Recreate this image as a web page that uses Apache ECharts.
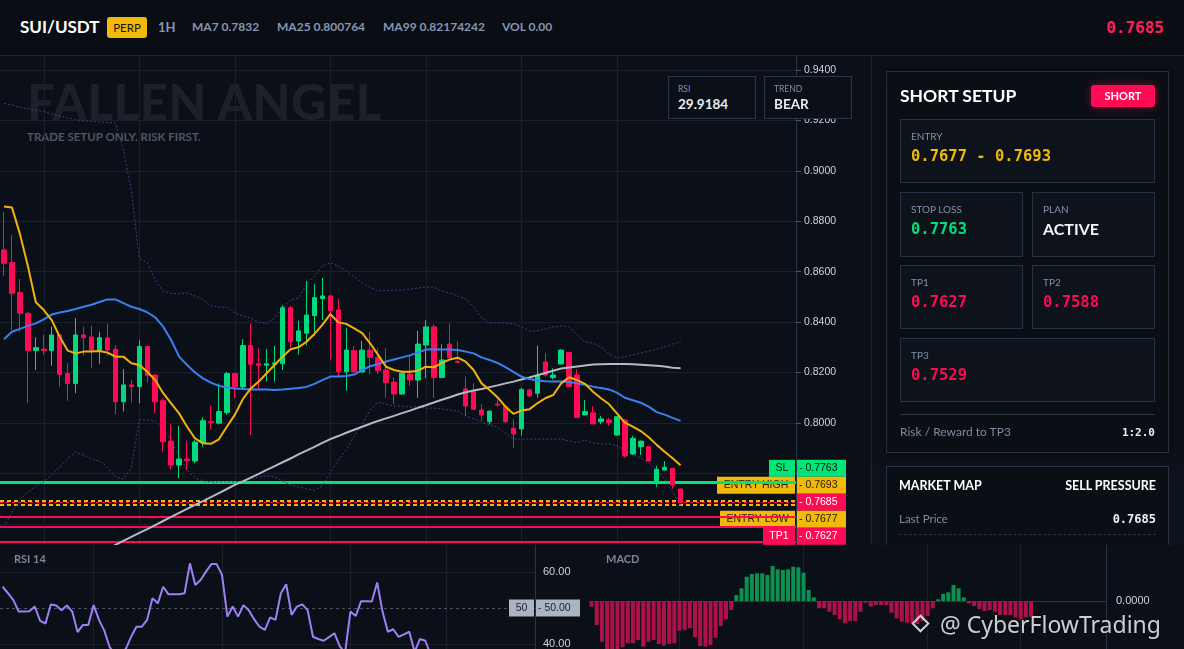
<!DOCTYPE html>
<html>
<head>
<meta charset="utf-8">
<script src="https://cdn.jsdelivr.net/npm/echarts@6.0.0/dist/echarts.min.js"></script>
<style>
*{box-sizing:border-box;margin:0;padding:0}
html,body{width:1184px;height:649px;overflow:hidden;background:#0b0f17}
body{position:relative;font-family:Lato,'Noto Sans',sans-serif;color:#fff}
.a{position:absolute;white-space:nowrap}
.mono{font-family:'DejaVu Sans Mono',monospace;font-weight:700}
.hd{font-size:12px;font-weight:700;color:#8696b0;line-height:16px;top:19px}
.box{position:absolute;border:1px solid #283143;background:#0d121b}
.lbl{position:absolute;left:10px;top:10px;font-size:10px;color:#8391a7;line-height:12px;white-space:nowrap}
.val{position:absolute;left:10px;top:27px;font-size:15.5px;line-height:18px;white-space:nowrap}
</style>
</head>
<body>
<!-- header -->
<div class="a" style="left:0;top:0;width:1184px;height:56px;background:#0a0d14;border-bottom:1px solid #1e2634"></div>
<div class="a" style="left:20px;top:17px;font-size:17px;font-weight:700;line-height:20px;color:#fff">SUI/USDT</div>
<div class="a" style="left:107px;top:17px;width:40px;height:21px;background:#f0b90b;border-radius:3px;color:#1d1606;font-size:11.5px;line-height:21px;text-align:center">PERP</div>
<div class="a hd" style="left:158px;font-size:13px">1H</div>
<div class="a hd" style="left:192px">MA7 0.7832</div>
<div class="a hd" style="left:277px">MA25 0.800764</div>
<div class="a hd" style="left:383px">MA99 0.82174242</div>
<div class="a hd" style="left:502px">VOL 0.00</div>
<div class="a mono" style="right:20px;top:18px;font-size:16px;line-height:20px;color:#ff1f5a">0.7685</div>

<!-- big faded title under chart -->
<div class="a" style="left:27px;top:77px;font-size:49px;font-weight:900;letter-spacing:0.6px;line-height:48px;color:#1b2029">FALLEN ANGEL</div>
<div class="a" style="left:27px;top:130px;font-size:11.5px;font-weight:700;line-height:14px;color:#4d5667">TRADE SETUP ONLY. RISK FIRST.</div>

<div id="main" class="a" style="left:0;top:56px;width:871px;height:489px"></div>

<!-- RSI / TREND boxes -->
<div class="a" style="left:668px;top:76px;width:88px;height:43px;border:1px solid #2b3446;background:#0b0f17">
  <div class="a" style="left:9px;top:7px;font-size:8.5px;color:#8391a7;line-height:10px">RSI</div>
  <div class="a" style="left:9px;top:19px;font-size:13.5px;font-weight:700;color:#e8ecf2;line-height:16px">29.9184</div>
</div>
<div class="a" style="left:764px;top:76px;width:88px;height:43px;border:1px solid #2b3446;background:#0b0f17">
  <div class="a" style="left:9px;top:7px;font-size:8.5px;color:#8391a7;line-height:10px">TREND</div>
  <div class="a" style="left:9px;top:19px;font-size:13.5px;font-weight:700;color:#e8ecf2;line-height:16px">BEAR</div>
</div>

<!-- right panel -->
<div class="a" style="left:871px;top:56px;width:313px;height:489px;background:#0d1119;border-left:1px solid #1c2331"></div>
<div class="a" style="left:886px;top:71px;width:283px;height:382px;border:1px solid #263042;background:#0a0e15;box-shadow:0 0 14px rgba(0,0,0,0.6)"></div>
<div class="a" style="left:900px;top:86px;font-size:17.5px;font-weight:700;line-height:20px">SHORT SETUP</div>
<div class="a" style="left:1091px;top:85px;width:64px;height:22px;background:#ff0a54;border-radius:3px;box-shadow:0 0 10px rgba(255,10,84,.45);font-size:11px;font-weight:700;line-height:22px;text-align:center">SHORT</div>
<div class="box" style="left:900px;top:119px;width:255px;height:64px">
  <div class="lbl">ENTRY</div>
  <div class="val mono" style="color:#f0b90b">0.7677 - 0.7693</div>
</div>
<div class="box" style="left:900px;top:192px;width:123px;height:65px">
  <div class="lbl">STOP LOSS</div>
  <div class="val mono" style="color:#00e07a">0.7763</div>
</div>
<div class="box" style="left:1032px;top:192px;width:123px;height:65px">
  <div class="lbl">PLAN</div>
  <div class="val" style="font-weight:700;font-size:16px;color:#f2f4f8">ACTIVE</div>
</div>
<div class="box" style="left:900px;top:265px;width:123px;height:64px">
  <div class="lbl">TP1</div>
  <div class="val mono" style="color:#ff0a54">0.7627</div>
</div>
<div class="box" style="left:1032px;top:265px;width:123px;height:64px">
  <div class="lbl">TP2</div>
  <div class="val mono" style="color:#ff0a54">0.7588</div>
</div>
<div class="box" style="left:900px;top:338px;width:255px;height:64px">
  <div class="lbl">TP3</div>
  <div class="val mono" style="color:#ff0a54">0.7529</div>
</div>
<div class="a" style="left:900px;top:414px;width:255px;height:1px;background:#2a3446"></div>
<div class="a" style="left:900px;top:425px;font-size:12px;line-height:14px;color:#7e8ba1">Risk / Reward to TP3</div>
<div class="a mono" style="right:29px;top:426px;font-size:11px;line-height:13px;color:#e9edf3">1:2.0</div>

<div class="a" style="left:886px;top:466px;width:283px;height:150px;border:1px solid #263042;background:#0a0e15"></div>
<div class="a" style="left:899px;top:479px;font-size:12.5px;font-weight:700;line-height:14px">MARKET MAP</div>
<div class="a" style="right:28px;top:479px;font-size:12.5px;font-weight:700;line-height:14px">SELL PRESSURE</div>
<div class="a" style="left:899px;top:512px;font-size:11.5px;line-height:14px;color:#7e8ba1">Last Price</div>
<div class="a mono" style="right:28px;top:512px;font-size:12px;line-height:14px;color:#eef1f5">0.7685</div>
<div class="a" style="left:899px;top:534px;width:257px;height:0;border-top:1px dashed #2a3344"></div>

<!-- bottom panels -->
<div class="a" style="left:0;top:545px;width:1184px;height:104px;background:#0b0f17"></div>
<div id="rsi" class="a" style="left:0;top:545px;width:589px;height:130px"></div>
<div id="macd" class="a" style="left:589px;top:545px;width:595px;height:130px"></div>
<div class="a" style="left:14px;top:552px;font-size:11px;font-weight:700;line-height:14px;color:#7b8598">RSI 14</div>
<div class="a" style="left:606px;top:552px;font-size:11px;font-weight:700;line-height:14px;color:#7b8598">MACD</div>

<!-- watermark -->
<div class="a" style="left:914px;top:617px;width:13px;height:13px;border:2.5px solid rgba(255,255,255,0.8);transform:rotate(45deg)"></div>
<div class="a" style="left:940px;top:609px;font-family:'Noto Sans',sans-serif;font-size:23px;line-height:30px;color:rgba(255,255,255,0.8);text-shadow:0 0 2px rgba(0,0,0,0.6)">@ CyberFlowTrading</div>

<script>
// ---------------- DATA ----------------
const categories = Array.from({length: 100}, (_, i) => String(i));

// candles: [open, close, low, high]
const candles = [
[0.8686,0.8633,0.8584,0.8838],[0.8636,0.8514,0.8369,0.8746],[0.8517,0.8435,0.8362,0.8571],[0.8435,0.8287,0.8078,0.8440],
[0.8287,0.8299,0.8210,0.8340],[0.8293,0.8287,0.8270,0.8349],[0.8287,0.8349,0.8227,0.8382],[0.8349,0.8192,0.8144,0.8352],
[0.8196,0.8156,0.8088,0.8237],[0.8156,0.8349,0.8118,0.8416],[0.8349,0.8338,0.8267,0.8382],[0.8341,0.8289,0.8219,0.8385],
[0.8289,0.8338,0.8235,0.8362],[0.8337,0.8289,0.8267,0.8393],[0.8292,0.8084,0.8034,0.8309],[0.8084,0.8151,0.8045,0.8214],
[0.8151,0.8144,0.8081,0.8170],[0.8144,0.8303,0.8078,0.8329],[0.8303,0.8188,0.8160,0.8306],[0.8190,0.8084,0.8038,0.8193],
[0.8088,0.7926,0.7886,0.8098],[0.7928,0.7833,0.7816,0.7996],[0.7833,0.7857,0.7780,0.7988],[0.7857,0.7850,0.7813,0.7930],
[0.7849,0.7924,0.7840,0.7932],[0.7922,0.8009,0.7906,0.8022],[0.8005,0.8001,0.7972,0.8067],[0.7999,0.8045,0.7995,0.8157],
[0.8041,0.8196,0.8032,0.8203],[0.8196,0.8143,0.8098,0.8198],[0.8143,0.8307,0.8133,0.8333],[0.8307,0.8233,0.7952,0.8393],
[0.8235,0.8229,0.8135,0.8296],[0.8229,0.8235,0.8164,0.8293],[0.8233,0.8238,0.8164,0.8305],[0.8235,0.8457,0.8210,0.8468],
[0.8457,0.8322,0.8299,0.8464],[0.8325,0.8365,0.8271,0.8406],[0.8356,0.8428,0.8308,0.8563],[0.8426,0.8497,0.8346,0.8550],
[0.8493,0.8504,0.8408,0.8575],[0.8504,0.8445,0.8250,0.8506],[0.8448,0.8203,0.8186,0.8492],[0.8203,0.8289,0.8128,0.8378],
[0.8287,0.8203,0.8199,0.8305],[0.8202,0.8289,0.8200,0.8325],[0.8289,0.8260,0.8193,0.8362],[0.8260,0.8207,0.8194,0.8296],
[0.8210,0.8160,0.8100,0.8296],[0.8162,0.8115,0.8075,0.8180],[0.8115,0.8197,0.8111,0.8199],[0.8194,0.8170,0.8147,0.8266],
[0.8170,0.8313,0.8100,0.8366],[0.8309,0.8381,0.8177,0.8408],[0.8381,0.8180,0.8100,0.8392],[0.8180,0.8250,0.8178,0.8312],
[0.8313,0.8260,0.8258,0.8395],[0.8244,0.8240,0.8238,0.8325],[0.8135,0.8067,0.8028,0.8184],[0.8124,0.8054,0.8051,0.8157],
[0.8051,0.8032,0.8009,0.8074],[0.8005,0.8047,0.7995,0.8049],[0.8075,0.8071,0.8065,0.8091],[0.8065,0.8005,0.7999,0.8067],
[0.7979,0.7956,0.7902,0.8014],[0.7976,0.8133,0.7950,0.8140],[0.8131,0.8107,0.8102,0.8137],[0.8118,0.8190,0.8100,0.8307],
[0.8242,0.8190,0.8184,0.8276],[0.8180,0.8190,0.8173,0.8217],[0.8234,0.8289,0.8232,0.8292],[0.8279,0.8144,0.8142,0.8281],
[0.8190,0.8022,0.8021,0.8213],[0.8032,0.8045,0.8031,0.8091],[0.8040,0.7996,0.7995,0.8067],[0.8005,0.8016,0.7996,0.8028],
[0.8012,0.8001,0.7988,0.8021],[0.7952,0.8025,0.7950,0.8027],[0.8012,0.7869,0.7862,0.8014],[0.7877,0.7939,0.7873,0.7948],
[0.7906,0.7928,0.7873,0.7930],[0.7906,0.7849,0.7847,0.7908],[0.7763,0.7816,0.7747,0.7829],[0.7813,0.7824,0.7812,0.7849],
[0.7820,0.7754,0.7739,0.7822],[0.7738,0.7685,0.7683,0.7740]
];

const ma7 = [0.8859,0.8855,0.8750,0.8623,0.8479,0.8448,0.8408,0.8342,0.8287,0.8276,0.8283,0.8283,0.8285,0.8279,0.8263,0.8263,0.8237,0.8230,0.8203,0.8170,
0.8118,0.8078,0.8038,0.7985,0.7939,0.7919,0.7917,0.7935,0.7985,0.8032,0.8094,0.8137,0.8164,0.8197,0.8230,0.8263,0.8292,0.8300,0.8322,0.8353,
0.8389,0.8432,0.8399,0.8393,0.8375,0.8356,0.8316,0.8270,0.8223,0.8210,0.8203,0.8203,0.8207,0.8223,0.8221,0.8237,0.8252,0.8259,0.8243,0.8210,
0.8157,0.8131,0.8102,0.8065,0.8036,0.8049,0.8054,0.8078,0.8098,0.8111,0.8157,0.8181,0.8170,0.8155,0.8124,0.8098,0.8075,0.8038,0.8001,0.7985,
0.7968,0.7943,0.7913,0.7886,0.7860,0.7832];

const ma25 = [0.8332,0.8362,0.8373,0.8385,0.8395,0.8411,0.8430,0.8438,0.8444,0.8452,0.8461,0.8469,0.8480,0.8490,0.8490,0.8475,0.8461,0.8452,0.8439,0.8419,
0.8382,0.8329,0.8263,0.8230,0.8200,0.8177,0.8160,0.8147,0.8141,0.8137,0.8135,0.8133,0.8133,0.8133,0.8131,0.8133,0.8136,0.8139,0.8143,0.8155,
0.8170,0.8184,0.8184,0.8186,0.8192,0.8210,0.8225,0.8234,0.8244,0.8252,0.8260,0.8268,0.8279,0.8291,0.8292,0.8291,0.8291,0.8289,0.8283,0.8276,
0.8260,0.8250,0.8238,0.8221,0.8203,0.8184,0.8174,0.8168,0.8165,0.8164,0.8164,0.8162,0.8157,0.8151,0.8144,0.8139,0.8133,0.8120,0.8100,0.8090,
0.8080,0.8065,0.8043,0.8033,0.8020,0.8008];

const ma99 = [null,null,null,null,null,null,null,null,null,null,null,null,
0.7484,0.7500,0.7516,0.7532,0.7548,0.7564,0.7579,0.7595,0.7611,0.7627,0.7643,0.7659,0.7675,0.7690,0.7706,0.7722,0.7738,0.7754,
0.7768,0.7783,0.7798,0.7814,0.7829,0.7844,0.7859,0.7875,0.7890,0.7905,0.7921,0.7936,0.7948,0.7961,0.7973,0.7985,0.7997,0.8008,
0.8018,0.8028,0.8039,0.8049,0.8060,0.8070,0.8081,0.8092,0.8102,0.8113,0.8122,0.8129,0.8135,0.8142,0.8149,0.8157,0.8164,0.8172,
0.8180,0.8189,0.8198,0.8207,0.8216,0.8220,0.8224,0.8228,0.8232,0.8233,0.8234,0.8234,0.8234,0.8233,0.8231,0.8229,0.8227,0.8224,
0.8219,0.8217];

const bollUpper = [0.9267,0.9261,0.9253,0.9247,0.9241,0.9235,0.9226,0.9218,0.9210,0.9204,0.9198,0.9196,0.9194,0.9192,0.9190,0.9083,0.8924,0.8654,0.8635,0.8567,
0.8523,0.8514,0.8512,0.8516,0.8504,0.8488,0.8464,0.8460,0.8460,0.8436,0.8424,0.8416,0.8400,0.8393,0.8416,0.8456,0.8488,0.8496,0.8547,0.8583,
0.8623,0.8635,0.8623,0.8603,0.8579,0.8555,0.8539,0.8523,0.8525,0.8527,0.8527,0.8531,0.8535,0.8539,0.8539,0.8523,0.8516,0.8504,0.8492,0.8460,
0.8416,0.8397,0.8397,0.8397,0.8393,0.8381,0.8365,0.8365,0.8373,0.8381,0.8385,0.8381,0.8349,0.8321,0.8317,0.8301,0.8274,0.8258,0.8262,0.8270,
0.8277,0.8285,0.8293,0.8301,0.8313,0.8321];

const bollLower = [0.7587,0.7647,0.7694,0.7726,0.7750,0.7766,0.7794,0.7825,0.7857,0.7885,0.7873,0.7857,0.7849,0.7825,0.7786,0.7778,0.7821,0.8012,0.8012,0.8008,
0.7980,0.7928,0.7869,0.7813,0.7782,0.7770,0.7766,0.7766,0.7766,0.7766,0.7770,0.7778,0.7786,0.7790,0.7786,0.7770,0.7754,0.7746,0.7738,0.7734,
0.7750,0.7802,0.7853,0.7893,0.7948,0.7996,0.8051,0.8083,0.8075,0.8067,0.8067,0.8063,0.8063,0.8059,0.8059,0.8055,0.8051,0.8047,0.8028,0.8016,
0.8004,0.7992,0.7984,0.7960,0.7936,0.7936,0.7936,0.7936,0.7936,0.7936,0.7936,0.7928,0.7921,0.7932,0.7921,0.7917,0.7917,0.7909,0.7893,0.7877,
0.7861,0.7841,0.7813,0.7778,0.7726,0.7671];

const rsi14 = [55.9,54.1,52.2,49.0,49.0,49.1,50.4,46.4,45.7,51.0,50.7,49.4,50.7,49.0,43.3,45.3,45.3,50.8,46.7,43.7,
39.1,37.2,37.6,38.6,42.0,44.8,44.8,46.7,52.7,51.3,55.9,53.8,53.8,53.8,54.1,62.4,56.4,57.8,60.1,62.2,
62.2,59.2,47.6,50.4,47.6,50.8,49.4,46.9,44.8,43.9,47.4,46.7,54.1,56.6,48.1,50.4,51.0,49.4,42.0,41.4,
40.9,41.9,43.0,39.4,37.5,49.0,47.8,51.9,51.9,51.8,57.1,49.0,43.4,44.1,42.0,42.7,43.4,37.8,41.4,40.9,
37.0,35.5,34.0,34.5,32.0,29.92];

const macdHist = [-0.00057,-0.0024,-0.00407,-0.005,-0.0053,-0.0051,-0.00463,-0.00423,-0.00423,-0.0039,
-0.00457,-0.00407,-0.0039,-0.0043,-0.00447,-0.0043,-0.00423,-0.00297,-0.0029,-0.00273,
-0.00363,-0.0045,-0.00457,-0.0044,-0.00367,-0.0025,-0.0018,-0.0009,
0.0006,0.00127,0.00243,0.0027,0.00277,0.00277,0.0026,0.0035,0.00317,0.0031,0.00317,0.00343,0.00337,0.00283,0.0011,0.00037,
-0.00073,-0.00073,-0.00107,-0.0014,-0.00183,-0.00223,-0.002,-0.002,-0.00107,-0.00017,-0.00057,-0.0004,-0.0004,-0.0004,
-0.00117,-0.00173,-0.00207,-0.00217,-0.0022,-0.0023,-0.002,-0.0015,-0.00073,
0.00017,0.0007,0.00087,0.0016,0.00127,0.00037,
-0.00023,-0.0005,-0.0008,-0.001,-0.0009,-0.00107,-0.0014,-0.0014,-0.0014,-0.00163,-0.00183,-0.00163,-0.00157];

const levelNames  = ['SL','ENTRY HIGH','','ENTRY LOW','TP1','TP2','TP3'];
const levelValues = [0.7763,0.7693,0.7685,0.7677,0.7627,0.7588,0.7529];
const lastPrice = 0.7685;
const rsiMid = 50;

const mainGridCandles = [5,17,29,41,53,65,77];
const subGridCandles = [17,41,65,83];

const priceMin = 0.74, priceMax = 0.96, priceStep = 0.02;
const rsiMin = 0, rsiMax = 100, rsiStep = 20;
const macdMin = -0.006, macdMax = 0.006, macdStep = 0.006;

// ---------------- STYLE ----------------
const UP = '#00d97e', DOWN = '#ff0a54', YEL = '#f0b90b', SLG = '#00e676';
const GRIDC = '#1a202c', AXISC = '#2a3447';
const levelStyles = [
  {line:{color:SLG,width:3,type:'solid'}, bg:SLG, fg:'#0a1a12'},
  {line:{color:YEL,width:2,type:[4,3]}, bg:YEL, fg:'#2a2006'},
  {line:{color:DOWN,width:1,type:[3,3]}, bg:DOWN, fg:'#ffffff'},
  {line:{color:YEL,width:2,type:[4,3]}, bg:YEL, fg:'#2a2006'},
  {line:{color:DOWN,width:2,type:'solid'}, bg:DOWN, fg:'#ffffff'},
  {line:{color:DOWN,width:2,type:'solid'}, bg:DOWN, fg:'#ffffff'},
  {line:{color:DOWN,width:2,type:'solid'}, bg:DOWN, fg:'#ffffff'}
];
const LBL_FONT = "10.5px 'Liberation Sans', Arial, sans-serif";
const mctx = document.createElement('canvas').getContext('2d');
function textW(t){ mctx.font = LBL_FONT; return mctx.measureText(t).width; }

function vGrid(list){
  return list.map(i => ({xAxis: i, lineStyle:{color:GRIDC,width:1,type:'solid'}}));
}

function tagElements(axisX, y, name, valueText, bg, fg, valW){
  const H = 17, els = [];
  if (name) {
    const w = Math.round(textW(name) + 13);
    els.push({type:'rect', z:1, shape:{x:axisX-1-w, y:y-H/2, width:w, height:H}, style:{fill:bg}});
    els.push({type:'text', z:1, x:axisX-1-w/2, y:y, style:{text:name, font:LBL_FONT, fill:fg, textAlign:'center', textVerticalAlign:'middle', align:'center', verticalAlign:'middle'}});
  }
  els.push({type:'rect', z:1, shape:{x:axisX+1, y:y-H/2, width:valW, height:H}, style:{fill:bg}});
  els.push({type:'text', z:1, x:axisX+3, y:y, style:{text:valueText, font:LBL_FONT, fill:fg, textAlign:'left', textVerticalAlign:'middle', align:'left', verticalAlign:'middle'}});
  return els;
}

// ---------------- MAIN CHART ----------------
const mainEl = document.getElementById('main');
const main = echarts.init(mainEl);
const MAIN_RIGHT = 75;
main.setOption({
  animation:false,
  grid:{left:0, right:MAIN_RIGHT, top:-36.4, bottom:-29.2, outerBoundsMode:'none', containLabel:false},
  xAxis:{type:'category', data:categories, boundaryGap:true, axisLine:{show:false}, axisTick:{show:false}, axisLabel:{show:false}, splitLine:{show:false}},
  yAxis:{type:'value', position:'right', min:priceMin, max:priceMax, interval:priceStep,
    axisLine:{show:true, lineStyle:{color:AXISC}},
    axisTick:{show:true, length:5, lineStyle:{color:'#4d5669'}},
    axisLabel:{color:'#cfd4dc', fontSize:10.5, fontFamily:"'Liberation Sans', Arial, sans-serif", margin:8, formatter:v=>v.toFixed(4)},
    splitLine:{show:true, lineStyle:{color:GRIDC, width:1}}},
  series:[
    {name:'BOLL UP', type:'line', data:bollUpper, symbol:'none', z:2, lineStyle:{color:'#463f8c', width:1, type:[2,2]},
     markLine:{silent:true, z:1, precision:4, symbol:['none','none'], label:{show:false}, data:vGrid(mainGridCandles)}},
    {name:'BOLL LOW', type:'line', data:bollLower, symbol:'none', z:2, lineStyle:{color:'#463f8c', width:1, type:[2,2]}},
    {name:'K', type:'candlestick', data:candles, barWidth:5, z:2,
     itemStyle:{color:UP, color0:DOWN, borderColor:UP, borderColor0:DOWN, borderWidth:1},
     markLine:{silent:true, z:1.5, precision:4, symbol:['none','none'], label:{show:false},
       data: levelValues.map((v,k)=>({yAxis:v, lineStyle:levelStyles[k].line}))}},
    {name:'MA99', type:'line', data:ma99, symbol:'none', z:3, lineStyle:{color:'#b5b9c4', width:2}},
    {name:'MA25', type:'line', data:ma25, symbol:'none', z:3, lineStyle:{color:'#3a80f0', width:2}},
    {name:'MA7', type:'line', data:ma7, symbol:'none', z:3, lineStyle:{color:'#f2b20c', width:2}}
  ]
});
(function(){
  const axisX = mainEl.clientWidth - MAIN_RIGHT;
  const ys = levelValues.map(v => main.convertToPixel({yAxisIndex:0}, v));
  const anchor = levelValues.indexOf(lastPrice);
  let els = [];
  levelValues.forEach((v,k) => {
    const y = ys[anchor] + (k - anchor) * 17;
    els = els.concat(tagElements(axisX, y, levelNames[k], '- ' + v.toFixed(4), levelStyles[k].bg, levelStyles[k].fg, 49));
  });
  main.setOption({graphic:{elements:els}});
})();

// ---------------- RSI ----------------
const rsiEl = document.getElementById('rsi');
const rsiChart = echarts.init(rsiEl);
const RSI_RIGHT = 54;
rsiChart.setOption({
  animation:false,
  grid:{left:0, right:RSI_RIGHT, top:-117, bottom:-113, outerBoundsMode:'none', containLabel:false},
  xAxis:{type:'category', data:categories, boundaryGap:true, axisLine:{show:false}, axisTick:{show:false}, axisLabel:{show:false}, splitLine:{show:false}},
  yAxis:{type:'value', position:'right', min:rsiMin, max:rsiMax, interval:rsiStep,
    axisLine:{show:true, lineStyle:{color:AXISC}}, axisTick:{show:false},
    axisLabel:{color:'#cfd4dc', fontSize:11, fontFamily:"'Liberation Sans', Arial, sans-serif", margin:8, formatter:v=>v.toFixed(2)},
    splitLine:{show:true, lineStyle:{color:GRIDC}}},
  series:[{type:'line', data:rsi14, symbol:'none', z:3, lineStyle:{color:'#9d80f2', width:2},
    markLine:{silent:true, z:1, precision:2, symbol:['none','none'], label:{show:false},
      data: vGrid(subGridCandles).concat([{yAxis:rsiMid, lineStyle:{color:'#4a5263', width:1, type:[3,3]}}])}}]
});
(function(){
  const axisX = rsiEl.clientWidth - RSI_RIGHT;
  const y = rsiChart.convertToPixel({yAxisIndex:0}, rsiMid);
  rsiChart.setOption({graphic:{elements:tagElements(axisX, y, String(rsiMid), '- ' + rsiMid.toFixed(2), '#aab4c3', '#1a2030', 44)}});
})();

// ---------------- MACD ----------------
const macdEl = document.getElementById('macd');
const macdChart = echarts.init(macdEl);
macdChart.setOption({
  animation:false,
  grid:{left:0, right:78, top:-4, bottom:14, outerBoundsMode:'none', containLabel:false},
  xAxis:{type:'category', data:categories, boundaryGap:true, axisLine:{show:false}, axisTick:{show:false}, axisLabel:{show:false}, splitLine:{show:false}},
  yAxis:{type:'value', position:'right', min:macdMin, max:macdMax, interval:macdStep,
    axisLine:{show:true, lineStyle:{color:AXISC}}, axisTick:{show:false},
    axisLabel:{color:'#cfd4dc', fontSize:11, fontFamily:"'Liberation Sans', Arial, sans-serif", margin:10, formatter:v=> v===0 ? '0.0000' : ''},
    splitLine:{show:true, lineStyle:{color:'#2c3341'}}},
  series:[{type:'bar', data:macdHist, barWidth:4, z:2,
    itemStyle:{color:p => p.value >= 0 ? '#0c8f50' : '#ad1149'},
    markLine:{silent:true, z:1, symbol:['none','none'], label:{show:false}, data:vGrid(subGridCandles)}}]
});
</script>
</body>
</html>
